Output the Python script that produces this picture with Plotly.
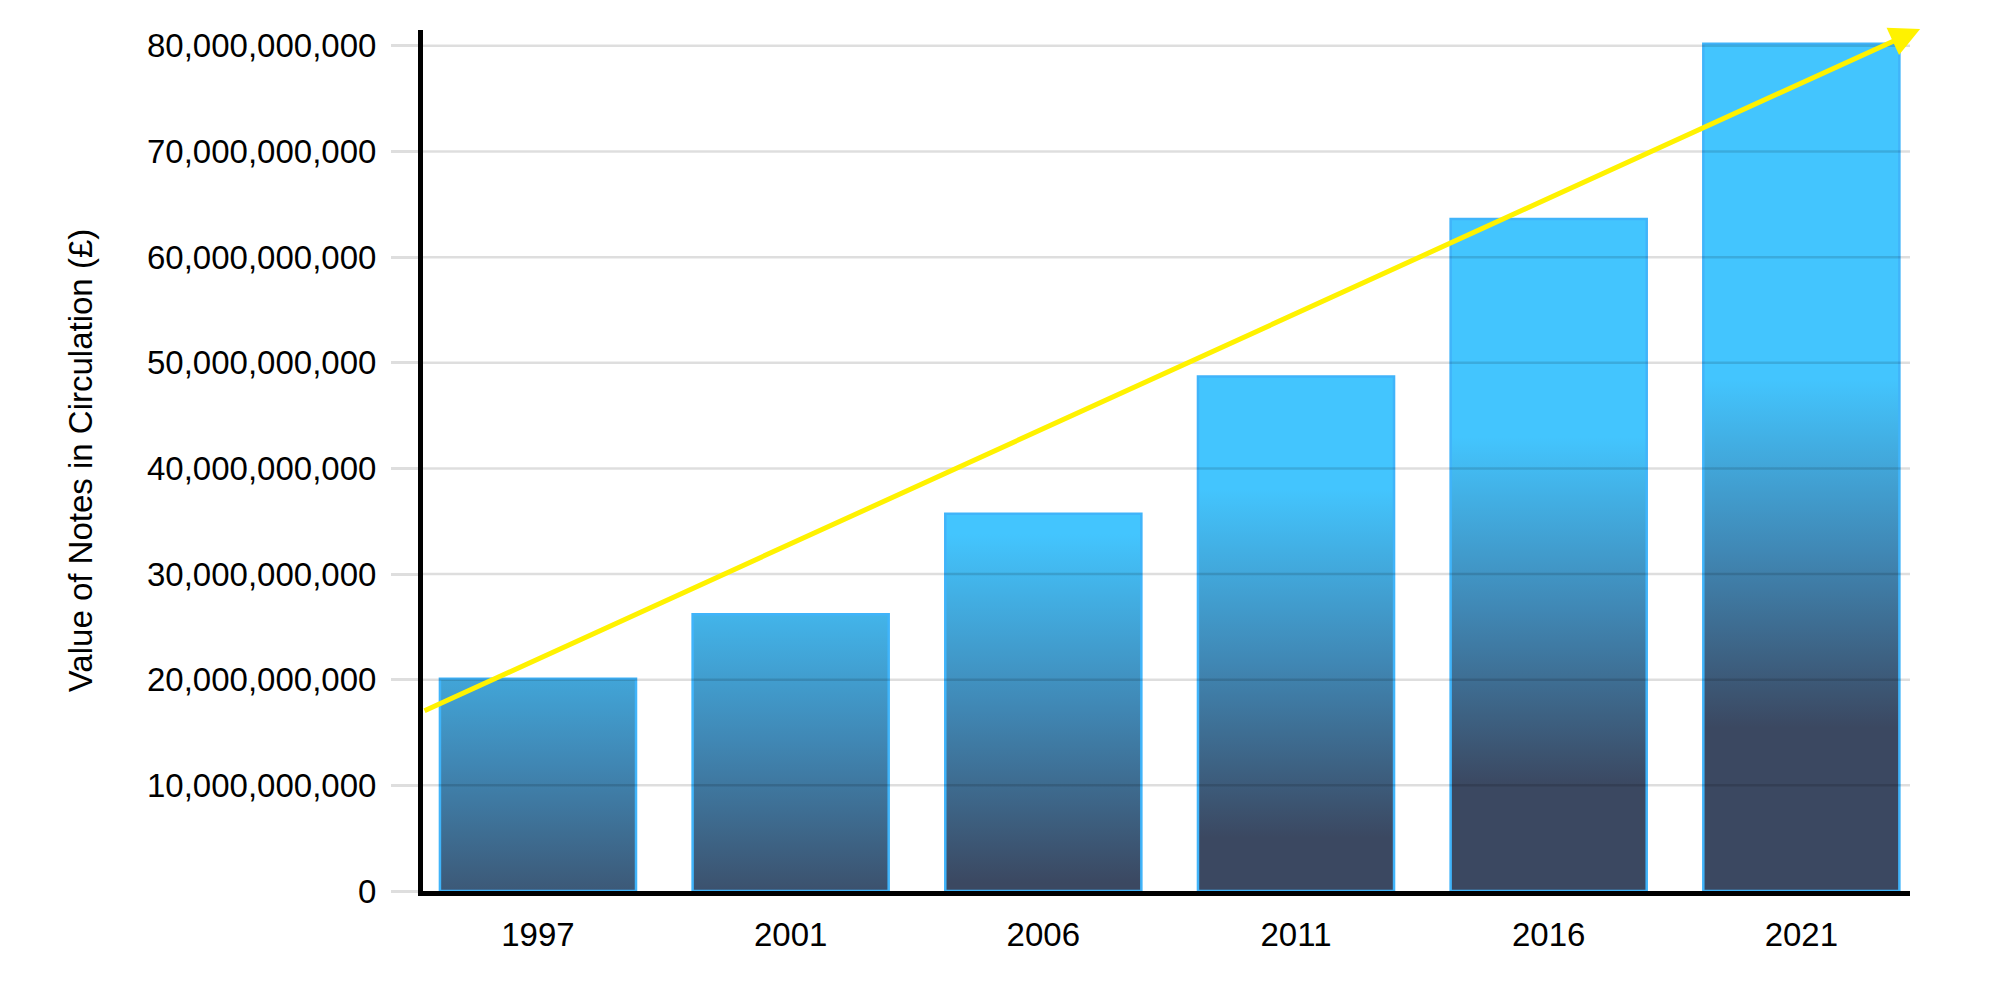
import plotly.graph_objects as go

# ---- data ----
years = ["1997", "2001", "2006", "2011", "2016", "2021"]
notes_value = [20.1e9, 26.2e9, 35.7e9, 48.7e9, 63.6e9, 80.2e9]
y_ticks = [0, 10e9, 20e9, 30e9, 40e9, 50e9, 60e9, 70e9, 80e9]
y_tick_labels = ["0", "10,000,000,000", "20,000,000,000", "30,000,000,000",
                 "40,000,000,000", "50,000,000,000", "60,000,000,000",
                 "70,000,000,000", "80,000,000,000"]
trend_start_value = 17.0e9
trend_end_value = 81.6e9

# ---- style ----
BAR_WIDTH = 0.776
DARK = "rgb(59,72,97)"
MID = "rgb(64,135,180)"
BRIGHT = "rgb(67,197,254)"
OUTLINE = "rgb(64,180,250)"
FONT = "Liberation Sans, Arial, sans-serif"
FS = 33
X_RANGE = [-0.455, 5.43]
Y_MAX = 81.5e9

fig = go.Figure()

idx = list(range(len(years)))
for i, v in zip(idx, notes_value):
    g0 = 0.33 * v - 11e9
    g1 = g0 + 33e9
    fig.add_trace(go.Scatter(
        x=[i - BAR_WIDTH / 2, i + BAR_WIDTH / 2, i + BAR_WIDTH / 2, i - BAR_WIDTH / 2, i - BAR_WIDTH / 2],
        y=[0, 0, v, v, 0],
        mode="lines",
        fill="toself",
        fillgradient=dict(type="vertical", start=g0, stop=g1,
                          colorscale=[[0, DARK], [0.5, MID], [1, BRIGHT]]),
        line=dict(color=OUTLINE, width=2.5),
        name=years[i],
        hoverinfo="skip",
        showlegend=False,
    ))

# gridlines drawn above the bars (semi-transparent)
for t in y_ticks[1:]:
    fig.add_shape(type="line", xref="paper", x0=0, x1=1, yref="y", y0=t, y1=t,
                  line=dict(color="rgba(0,0,0,0.13)", width=2.5), layer="above")

# trend arrow
fig.add_annotation(
    x=X_RANGE[1] + 0.04, y=trend_end_value,
    ax=X_RANGE[0], ay=trend_start_value,
    xref="x", yref="y", axref="x", ayref="y",
    showarrow=True, arrowhead=2, arrowsize=1.2, arrowwidth=5,
    arrowcolor="#fff200", text="",
)

fig.update_layout(
    width=2000, height=1000,
    margin=dict(l=415, r=98, t=22, b=117),
    paper_bgcolor="white", plot_bgcolor="white",
    font=dict(family=FONT, size=FS, color="#000"),
    showlegend=False,
)
fig.update_xaxes(
    range=X_RANGE, tickmode="array", tickvals=idx, ticktext=years,
    showgrid=False, zeroline=False, showline=True, linecolor="#000", linewidth=5,
    ticks="", tickfont=dict(size=FS, family=FONT, color="#000"), ticklabelstandoff=10,
)
fig.update_yaxes(
    range=[0, Y_MAX], tickmode="array", tickvals=y_ticks, ticktext=y_tick_labels,
    showgrid=False, zeroline=False, showline=True, linecolor="#000", linewidth=5,
    ticks="outside", ticklen=27, tickcolor="#dedede", tickwidth=2.5,
    tickfont=dict(size=FS, family=FONT, color="#000"), ticklabelstandoff=8,
    title=dict(text="Value of Notes in Circulation (£)", font=dict(size=FS, family=FONT, color="#000"),
               standoff=46),
)

fig.write_html("out.html")
